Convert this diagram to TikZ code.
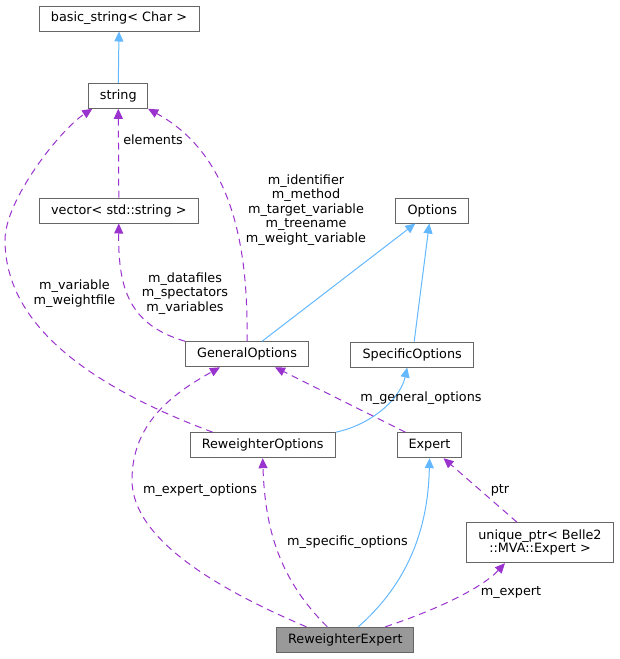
\documentclass[tikz,border=0pt]{standalone}
\usepackage{fontspec}
\setmainfont{DejaVu Sans}
\usetikzlibrary{arrows.meta}
\definecolor{inhblue}{HTML}{63B8FF}
\definecolor{relpurple}{HTML}{9A32CD}
\definecolor{boxborder}{HTML}{666666}
\definecolor{boxfill}{HTML}{999999}
\begin{document}
\begin{tikzpicture}[x=1pt,y=-1pt,
 cls/.style={draw=boxborder, line width=1pt, fill=white, inner sep=0pt, minimum height=25pt, align=center, font=\fontsize{12.8}{13.4}\selectfont},
 inh/.style={draw=inhblue, line width=1pt, -{Triangle[length=10pt,width=9pt]}},
 rel/.style={draw=relpurple, line width=1pt, dash pattern=on 7pt off 5pt, -{Triangle[length=10pt,width=9pt]}},
 lbl/.style={font=\fontsize{12.8}{14.6}\selectfont, align=center, inner sep=0pt}]
\useasboundingbox (0,0) rectangle (619,659);

\node[cls, minimum width=160pt] (basic) at (119,18.5) {basic\_string< Char >};
\node[cls, minimum width=58.7pt] (string) at (118.3,95.8) {string};
\node[cls, minimum width=159pt] (vector) at (118.8,210.5) {vector< std::string >};
\node[cls, minimum width=72.7pt] (options) at (432.3,210.5) {Options};
\node[cls, minimum width=122.7pt] (general) at (247,354.3) {GeneralOptions};
\node[cls, minimum width=123pt] (specific) at (412.2,354.5) {SpecificOptions};
\node[cls, minimum width=145.3pt] (rwopts) at (262.7,445.2) {ReweighterOptions};
\node[cls, minimum width=64.3pt] (expert) at (429.5,445.2) {Expert};
\node[cls, minimum width=146.7pt, minimum height=40pt] (uptr) at (540,542.7) {unique\_ptr< Belle2\\::MVA::Expert >};
\node[cls, minimum width=137.3pt, fill=boxfill] (rwexpert) at (345.3,639.8) {ReweighterExpert};

% inheritance
\draw[inh] (string.north) -- (basic.south);
\draw[inh] ([xshift=15pt]general.north) -- ([xshift=-17pt]options.south);
\draw[inh] ([xshift=2pt]specific.north) -- ([xshift=-3pt]options.south);
\draw[inh] (rwopts.north east) .. controls (370,425) and (400,400) .. ([xshift=-5pt]specific.south);
\draw[inh] ([xshift=13pt]rwexpert.north) .. controls (400,590) and (428,540) .. (expert.south);

% usage
\draw[rel] (vector.north) -- (string.south);
\draw[rel] (general.north) .. controls (248,260) and (238,158) .. (string.south east);
\draw[rel] ([xshift=-50pt]rwopts.north) .. controls (100,390) and (5,330) .. (5,240) .. controls (5,200) and (60,130) .. ([xshift=-26pt]string.south);
\draw[rel] (general.north west) .. controls (130,325) and (118,290) .. (vector.south);
\draw[rel] ([xshift=-24pt]expert.north) -- ([xshift=28pt]general.south);
\draw[rel] ([xshift=-39pt]rwexpert.north) .. controls (220,590) and (132,540) .. (132,480) .. controls (132,425) and (170,395) .. ([xshift=-27pt]general.south);
\draw[rel] ([xshift=-18pt]rwexpert.north) .. controls (280,580) and (265,530) .. (rwopts.south);
\draw[rel] ([xshift=40pt]rwexpert.north) .. controls (430,612) and (480,590) .. ([xshift=-35pt]uptr.south);
\draw[rel] ([xshift=-23pt]uptr.north) -- ([xshift=14pt]expert.south);

% labels
\node[lbl] (l1) at (153,140) {elements};
\node[lbl] (l2) at (306,210) {m\_identifier\\m\_method\\m\_target\_variable\\m\_treename\\m\_weight\_variable};
\node[lbl] (l3) at (74.5,293.7) {m\_variable\\m\_weightfile};
\node[lbl] (l4) at (185,293.5) {m\_datafiles\\m\_spectators\\m\_variables};
\node[lbl] (l5) at (421,398) {m\_general\_options};
\node[lbl] (l6) at (200,490) {m\_expert\_options};
\node[lbl] (l7) at (347.5,541.7) {m\_specific\_options};
\node[lbl] (l8) at (500,490) {ptr};
\node[lbl] (l9) at (511,593) {m\_expert};
\end{tikzpicture}
\end{document}
